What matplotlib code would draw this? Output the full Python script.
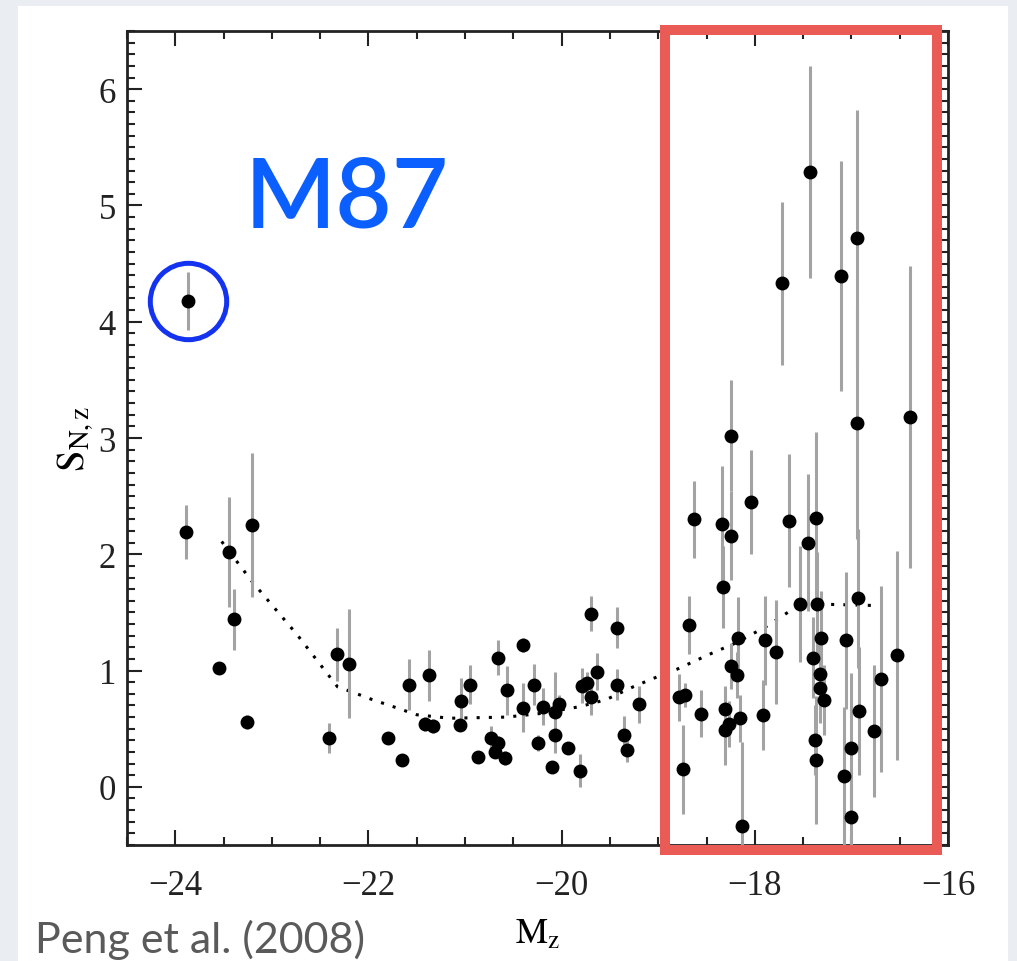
import matplotlib
matplotlib.use('Agg')
import matplotlib.pyplot as plt
from matplotlib.patches import Rectangle
from matplotlib.ticker import MultipleLocator
import numpy as np

plt.rcParams['font.family'] = ['Liberation Serif', 'DejaVu Serif']
plt.rcParams['mathtext.fontset'] = 'stix'

# galaxy absolute magnitude, specific frequency of GCs, and its error
mz = [-23.87, -23.89, -23.44, -23.21, -23.39, -23.55, -23.26, -22.33, -22.20, -22.41,
      -21.80, -21.65, -21.58, -21.37, -21.41, -21.33, -21.04, -20.95, -21.05, -20.87,
      -20.73, -20.66, -20.69, -20.59, -20.66, -20.57, -20.40, -20.40, -20.29, -20.25,
      -20.19, -20.07, -20.03, -20.07, -20.10, -19.93, -19.81, -19.79, -19.74, -19.70,
      -19.63, -19.70, -19.43, -19.43, -19.35, -19.32, -19.20,
      -18.79, -18.72, -18.74, -18.68, -18.63, -18.56, -18.34, -18.25, -18.25, -18.33,
      -18.25, -18.18, -18.31, -18.27, -18.31, -18.17, -18.15, -18.13, -18.04, -17.92,
      -17.89, -17.78, -17.65, -17.53, -17.45, -17.37, -17.36, -17.32, -17.40, -17.33,
      -17.33, -17.28, -17.38, -17.37, -17.06, -17.08, -17.00, -17.00, -16.94, -16.93,
      -16.92, -16.77, -16.69, -16.53, -16.39, -17.43, -17.72, -17.11, -16.94]
snz = [4.18, 2.19, 2.02, 2.25, 1.44, 1.02, 0.56, 1.14, 1.06, 0.42,
       0.42, 0.23, 0.88, 0.96, 0.54, 0.52, 0.74, 0.88, 0.53, 0.26,
       0.42, 0.38, 0.30, 0.25, 1.11, 0.83, 1.22, 0.68, 0.88, 0.38,
       0.69, 0.64, 0.71, 0.45, 0.17, 0.33, 0.14, 0.87, 0.89, 0.77,
       0.99, 1.49, 1.37, 0.88, 0.45, 0.32, 0.71,
       0.77, 0.79, 0.15, 1.39, 2.30, 0.63, 2.26, 2.16, 3.02, 1.72,
       1.04, 0.96, 0.67, 0.54, 0.49, 1.28, 0.59, -0.34, 2.45, 0.62,
       1.26, 1.16, 2.29, 1.57, 2.10, 2.31, 1.57, 1.28, 1.11, 0.97,
       0.85, 0.75, 0.40, 0.23, 1.26, 0.09, 0.33, -0.26, 3.13, 1.62,
       0.65, 0.48, 0.93, 1.13, 3.18, 5.29, 4.33, 4.39, 4.72]
snz_err = [0.25, 0.23, 0.47, 0.62, 0.26, 0.03, 0.06, 0.23, 0.47, 0.13,
           0.04, 0.04, 0.22, 0.22, 0.06, 0.06, 0.20, 0.17, 0.05, 0.04,
           0.10, 0.06, 0.05, 0.06, 0.15, 0.21, 0.06, 0.21, 0.18, 0.07,
           0.16, 0.35, 0.08, 0.06, 0.04, 0.05, 0.14, 0.15, 0.10, 0.15,
           0.16, 0.15, 0.18, 0.13, 0.16, 0.11, 0.16,
           0.20, 0.10, 0.38, 0.25, 0.33, 0.20, 0.50, 0.38, 0.48, 0.35,
           0.20, 0.20, 0.20, 0.20, 0.30, 0.35, 0.20, 0.73, 0.45, 0.30,
           0.38, 0.45, 0.57, 0.50, 0.59, 0.74, 0.45, 0.40, 0.35, 0.30,
           0.30, 0.30, 0.30, 0.55, 0.59, 0.60, 0.65, 0.30, 1.00, 0.60,
           0.55, 0.57, 0.80, 0.90, 1.30, 0.91, 0.70, 0.99, 1.10]

# dotted mean relation
curve_mz = [-23.52, -23.20, -22.74, -22.32, -22.15, -21.96, -21.78, -21.50, -21.16,
            -20.57, -20.23, -19.81, -19.54, -19.26, -19.00, -18.81, -18.47, -18.19,
            -17.88, -17.53, -17.26, -16.78]
curve_snz = [2.11, 1.76, 1.31, 0.86, 0.81, 0.75, 0.70, 0.62, 0.59,
             0.60, 0.63, 0.69, 0.75, 0.86, 0.95, 1.01, 1.14, 1.24,
             1.38, 1.57, 1.57, 1.56]

m87 = (-23.87, 4.18)
box_mz = (-18.93, -16.11)
box_snz = (-0.54, 6.51)

fig = plt.figure(figsize=(10.17, 9.62), dpi=100, facecolor='#eaedf1')
fig.patches.append(Rectangle((18 / 1017, 0), 990 / 1017, 955 / 962,
                             transform=fig.transFigure, facecolor='white',
                             edgecolor='none', zorder=-10))

ax = fig.add_axes([127 / 1017, 116 / 962, 821 / 1017, 814 / 962])
ax.set_facecolor('white')

ax.errorbar(mz, snz, yerr=snz_err, fmt='o', color='black', ms=9,
            ecolor='#a3a3a3', elinewidth=2.2, capsize=0, zorder=3)
ax.plot(curve_mz, curve_snz, color='black', lw=2.2, ls=(0, (1, 3)), zorder=2)

# highlight M87
ax.plot(*m87, marker='o', ms=55, mfc='none', mec='#1433f0', mew=3.6,
        zorder=5, clip_on=False)
fig.text(245 / 1017, 1 - 228 / 962, 'M87', color='#0b5fff', fontsize=70,
         family=['Lato', 'DejaVu Sans'], fontweight='semibold',
         ha='left', va='baseline')

# box around faint galaxies
ax.add_patch(Rectangle((box_mz[0], box_snz[0]), box_mz[1] - box_mz[0],
                       box_snz[1] - box_snz[0], fill=False, edgecolor='#eb5b56',
                       lw=7.2, zorder=6, clip_on=False))

ax.set_xlim(-24.5, -16)
ax.set_ylim(-0.5, 6.5)
ax.xaxis.set_major_locator(MultipleLocator(2))
ax.xaxis.set_minor_locator(MultipleLocator(0.5))
ax.yaxis.set_major_locator(MultipleLocator(1))
ax.yaxis.set_minor_locator(MultipleLocator(0.1))
ax.tick_params(which='both', direction='in', top=True, right=True, width=1.5,
               colors='#222222', labelsize=25)
ax.tick_params(which='major', length=11)
ax.tick_params(which='minor', length=6)
ax.tick_params(axis='x', pad=17)
ax.tick_params(axis='y', pad=8)
for sp in ax.spines.values():
    sp.set_linewidth(2)
    sp.set_color('#222222')

ax.set_xlabel(r'$\mathrm{M_z}$', fontsize=26, labelpad=12)
ax.set_ylabel(r'$\mathrm{S_{N,z}}$', fontsize=28, labelpad=2)

fig.text(35 / 1017, 1 - 953 / 962, 'Peng et al. (2008)', color='#5a5a5a',
         fontsize=31, family=['Lato', 'DejaVu Sans'], fontweight='normal',
         ha='left', va='baseline')

plt.savefig('out.png', dpi=100, facecolor=fig.get_facecolor())
plt.close()
